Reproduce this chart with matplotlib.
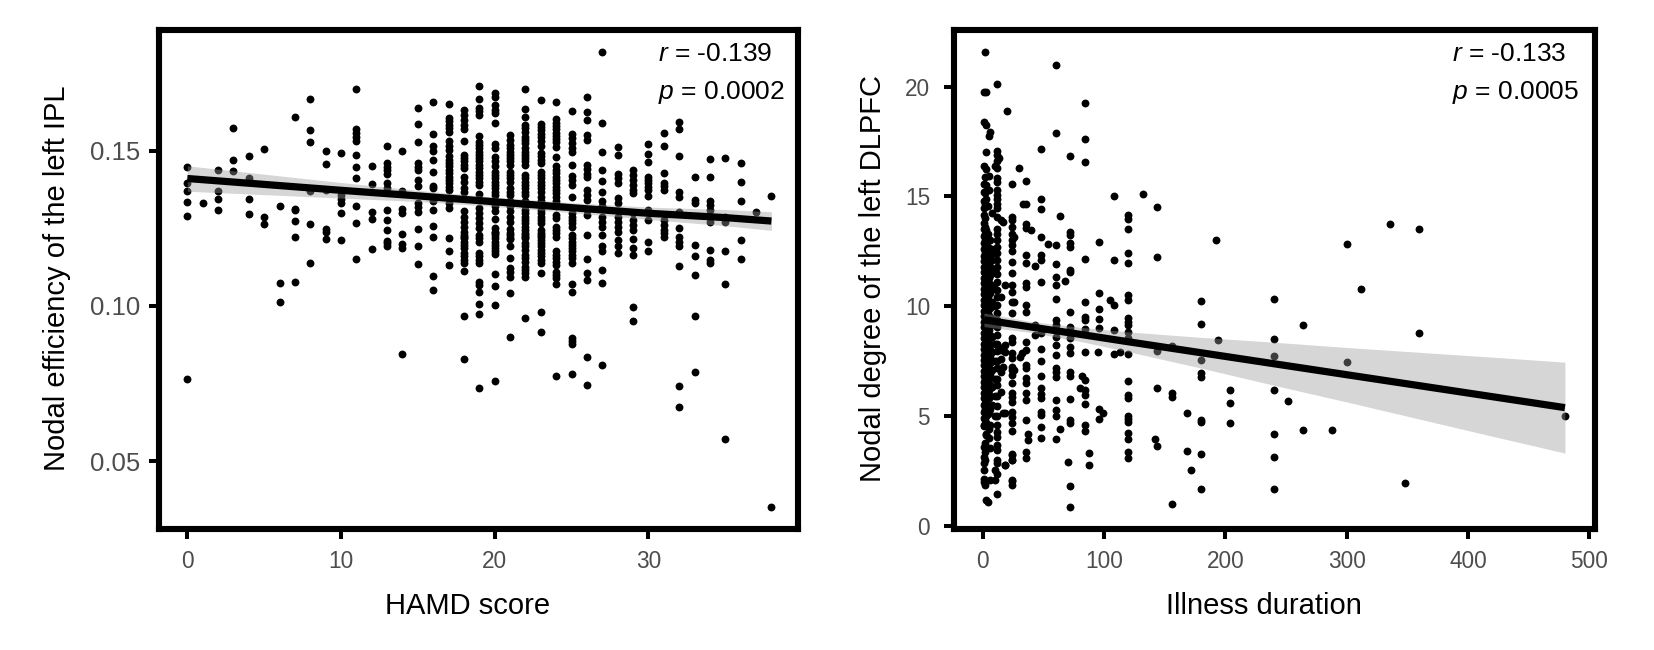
import matplotlib
matplotlib.use("Agg")
import matplotlib.pyplot as plt

plt.rcParams['font.family'] = ['Liberation Sans', 'DejaVu Sans']
plt.rcParams['mathtext.fontset'] = 'custom'
plt.rcParams['mathtext.rm'] = 'Liberation Sans'
plt.rcParams['mathtext.it'] = 'Liberation Sans:italic'

# left panel: nodal efficiency values, one list per HAMD score 0..38
efficiency_by_score = [
    [.1447, .1395, .1369, .1334, .1289, .0765],
    [.1331],
    [.1438, .1371, .1345, .1310],
    [.1572, .1470, .1434],
    [.1484, .1411, .1344, .1296],
    [.1506, .1287, .1264],
    [.1320, .1074, .1013],
    [.1608, .1313, .1307, .1273, .1222, .1077],
    [.1667, .1567, .1529, .1371, .1264, .1138],
    [.1499, .1458, .1373, .1248, .1239, .1216],
    [.1492, .1357, .1343, .1331, .1298, .1212],
    [.1697, .1569, .1556, .1543, .1532, .1486, .1448, .1411, .1321, .1268, .1152],
    [.1450, .1393, .1303, .1281, .1183],
    [.1514, .1461, .1448, .1436, .1425, .1397, .1379, .1310, .1277, .1244, .1210, .1202, .1191],
    [.1498, .1371, .1313, .1300, .1231, .1199, .1185, .0846],
    [.1638, .1585, .1526, .1461, .1448, .1438, .1406, .1386, .1331, .1318, .1303, .1248, .1194, .1133],
    [.1655, .1553, .1515, .1498, .1470, .1432, .1387, .1379, .1336, .1310, .1257, .1221, .1096, .1051],
    [.1649, .1604, .1594, .1583, .1572, .1561, .1532, .1515, .1502, .1481, .1470, .1459, .1449, .1438, .1427,
     .1416, .1406, .1395, .1384, .1373, .1330, .1314, .1218, .1177, .1132],
    [.1631, .1615, .1599, .1583, .1569, .1532, .1486, .1475, .1465, .1454, .1443, .1416, .1400, .1379, .1368,
     .1304, .1287, .1271, .1255, .1239, .1223, .1228, .1218, .1207, .1196, .1185, .1169, .1159, .1148, .1137,
     .1112, .0967, .0829],
    [.1708, .1667, .1636, .1626, .1615, .1548, .1529, .1518, .1508, .1497, .1486, .1475, .1465, .1454, .1443,
     .1432, .1422, .1411, .1400, .1389, .1360, .1314, .1298, .1282, .1266, .1250, .1228, .1218, .1207, .1169,
     .1159, .1148, .1137, .1078, .1067, .1046, .1005, .0973, .0735],
    [.1685, .1672, .1647, .1631, .1620, .1590, .1522, .1508, .1479, .1465, .1449, .1432, .1422, .1411, .1400,
     .1389, .1379, .1368, .1357, .1336, .1320, .1304, .1279, .1250, .1234, .1218, .1239, .1228, .1207, .1196,
     .1185, .1175, .1167, .1102, .1064, .1001, .0758],
    [.1551, .1534, .1518, .1508, .1497, .1486, .1475, .1465, .1454, .1432, .1422, .1411, .1400, .1379, .1368,
     .1357, .1336, .1320, .1304, .1287, .1271, .1247, .1234, .1218, .1228, .1214, .1191, .1153, .1121, .1110,
     .1094, .1040, .0899],
    [.1698, .1633, .1607, .1583, .1572, .1561, .1545, .1534, .1524, .1508, .1497, .1486, .1475, .1465, .1454,
     .1422, .1411, .1400, .1389, .1379, .1368, .1357, .1336, .1320, .1309, .1298, .1287, .1277, .1266, .1255,
     .1244, .1234, .1223, .1228, .1218, .1202, .1191, .1180, .1164, .1153, .1142, .1126, .1116, .1105, .1094,
     .0960],
    [.1663, .1586, .1575, .1565, .1554, .1543, .1532, .1515, .1492, .1481, .1470, .1459, .1432, .1422, .1411,
     .1400, .1389, .1379, .1368, .1352, .1336, .1309, .1298, .1287, .1277, .1266, .1244, .1234, .1223, .1228,
     .1212, .1202, .1191, .1180, .1169, .1159, .1148, .1137, .1107, .0981, .0916],
    [.1655, .1601, .1590, .1580, .1569, .1558, .1547, .1537, .1526, .1511, .1479, .1449, .1438, .1427, .1416,
     .1406, .1395, .1384, .1373, .1363, .1352, .1336, .1320, .1293, .1282, .1255, .1244, .1234, .1223, .1175,
     .1164, .1153, .1142, .1132, .1110, .1100, .1089, .1069, .0774],
    [.1629, .1553, .1540, .1524, .1508, .1497, .1454, .1418, .1406, .1389, .1352, .1298, .1287, .1277, .1266,
     .1255, .1228, .1218, .1207, .1196, .1185, .1175, .1164, .1153, .1139, .1069, .1044, .0895, .0885, .0876,
     .0781],
    [.1674, .1623, .1599, .1551, .1534, .1454, .1440, .1425, .1414, .1373, .1357, .1341, .1309, .1293, .1228,
     .1150, .1105, .1084, .0836, .0745],
    [.1817, .1588, .1495, .1436, .1403, .1368, .1336, .1320, .1287, .1271, .1255, .1228, .1191, .1175, .1116,
     .1075, .0810],
    [.1510, .1486, .1425, .1411, .1395, .1346, .1332, .1287, .1271, .1255, .1239, .1212, .1191, .1169],
    [.1438, .1422, .1405, .1389, .1373, .1363, .1298, .1277, .1261, .1244, .1214, .1185, .1164, .0995, .0951],
    [.1521, .1488, .1462, .1416, .1405, .1395, .1384, .1373, .1355, .1309, .1277, .1207, .1178],
    [.1556, .1515, .1427, .1397, .1386, .1373, .1277, .1261, .1244, .1234, .1223],
    [.1593, .1569, .1481, .1365, .1352, .1303, .1250, .1223, .1207, .1191, .1129, .0742, .0674],
    [.1416, .1341, .1330, .1196, .1159, .1100, .0967, .0788],
    [.1473, .1416, .1336, .1325, .1309, .1287, .1271, .1180, .1148, .1139],
    [.1475, .1287, .1271, .1177, .1070, .0572],
    [.1459, .1398, .1336, .1212, .1151],
    [.1301],
    [.1354, .0352],
]

# left panel: fitted line and confidence band
fit_score = [0, 5, 10, 15, 20, 25, 30, 35, 38]
fit_efficiency = [.1410, .1391, .1372, .1354, .1335, .1316, .1298, .1284, .1273]
band_half_left = [.0041, .0033, .0025, .0018, .0015, .0016, .0020, .0026, .0030]

# right panel: nodal degree values, grouped by illness duration
duration_months = [1, 2, 3, 4, 5, 6, 8, 10, 12, 13, 15, 17, 18, 20, 24, 26, 30, 31, 32, 33, 36, 37, 40, 43, 48,
                   54, 60, 64, 68, 70, 72, 80, 82, 84, 88, 95, 96, 99, 105, 108, 113, 120, 132, 142, 144, 156,
                   168, 172, 180, 192, 194, 204, 240, 252, 264, 288, 300, 312, 336, 348, 360, 480]
degree_by_duration = [
    [19.74, 18.4, 16.4, 15.57, 14.15, 3.6, 3.14, 2.84, 2.53, 2.15, 2.0, 4.54, 4.6, 4.9, 5.2, 5.5, 5.8, 6.05, 6.3,
     6.55, 6.8, 7.05, 7.3, 7.55, 7.8, 8.05, 8.3, 8.55, 8.8, 9.05, 9.3, 9.55, 9.8, 10.05, 10.3, 10.55, 10.8, 11.05,
     11.3, 11.55, 11.8, 12.05, 12.3, 12.6, 12.9, 13.2, 13.5, 13.8, 14.46, 14.8, 15.2],
    [21.57, 15.9, 15.14, 14.67, 3.37, 3.0, 3.75, 1.85, 4.8, 5.3, 5.6, 6.0, 6.4, 6.7, 7.0, 7.3, 7.6, 7.9, 8.2, 8.5,
     8.8, 9.1, 9.4, 9.7, 10.0, 10.3, 10.6, 10.9, 11.2, 11.5, 11.8, 12.1, 12.4, 12.7, 13.0, 13.3, 13.6, 14.0],
    [19.74, 18.25, 17.0, 16.25, 15.5, 14.9, 4.13, 1.17, 4.2, 4.7, 5.0, 5.4, 5.7, 6.1, 6.5, 6.9, 7.2, 7.5, 7.8, 8.1,
     8.4, 8.7, 9.0, 9.3, 9.6, 9.9, 10.2, 10.5, 10.8, 11.1, 11.4, 11.7, 12.0, 12.3, 12.6, 12.85, 13.15, 13.45],
    [1.09, 5.1, 5.9, 6.6, 7.4, 8.0, 8.9, 9.7, 10.4, 11.0, 11.6, 12.2, 12.7, 13.3, 14.56],
    [17.77, 15.95, 15.3, 3.98, 4.4, 5.2, 5.8, 6.2, 6.8, 7.4, 7.9, 8.3, 8.9, 9.5, 10.1, 10.7, 11.3, 11.9, 12.4, 13.0],
    [17.95, 3.52, 2.08, 4.6, 5.3, 5.9, 6.4, 6.9, 7.4, 7.7, 8.0, 8.3, 8.7, 9.1, 9.5, 9.9, 10.2, 10.6, 11.0, 11.4,
     11.8, 12.2, 12.6, 13.0],
    [14.23, 5.5, 6.3, 7.1, 7.9, 8.6, 9.4, 10.2, 10.9, 11.5, 12.1, 12.6],
    [16.39, 2.53, 2.08, 5.0, 5.9, 6.7, 7.5, 8.3, 9.2, 10.0, 10.8, 11.6, 12.4],
    [20.12, 17.07, 16.9, 16.6, 16.28, 15.82, 15.67, 15.3, 15.07, 14.9, 14.64, 14.46, 14.08, 3.67, 3.44, 3.0, 2.84,
     2.38, 1.47, 4.05, 4.28, 4.58, 5.0, 5.45, 5.9, 6.4, 6.7, 7.2, 7.5, 7.95, 8.3, 8.7, 9.05, 9.35, 9.7, 10.05, 10.4,
     10.75, 11.1, 11.45, 11.8, 12.1, 12.4, 12.7, 13.0, 13.3, 13.5],
    [16.77],
    [13.93, 10.43, 8.1, 8.0, 7.6, 7.0, 6.1],
    [13.85, 7.24, 5.15],
    [10.97, 8.23, 7.93, 5.15, 2.78, 2.76],
    [18.9],
    [15.55, 14.08, 13.93, 13.6, 13.3, 13.0, 12.8, 12.5, 12.0, 11.5, 10.97, 10.66, 10.2, 9.68, 8.54, 8.38, 7.85,
     7.62, 7.24, 7.09, 6.87, 6.49, 6.03, 5.88, 5.65, 5.19, 4.97, 4.66, 4.31, 3.29, 3.22, 3.0, 2.99, 2.08, 2.03, 1.85],
    [13.17, 10.2, 7.09],
    [16.3],
    [7.67],
    [7.85],
    [14.64],
    [15.7, 14.64, 13.74, 13.55, 12.33, 11.95, 11.07, 10.86, 10.06, 9.75, 8.38, 8.0, 7.32, 7.17, 6.71, 6.49, 6.06,
     5.73, 4.81, 3.34, 3.07],
    [4.16, 3.9],
    [13.47],
    [11.83, 9.14, 8.69],
    [17.18, 14.88, 14.44, 13.17, 12.33, 12.1, 11.12, 8.76, 8.05, 7.5, 6.82, 6.26, 6.0, 5.8, 5.19, 5.04, 4.51, 4.01],
    [12.85],
    [21.0, 17.9, 12.8, 11.9, 11.32, 10.97, 10.31, 9.37, 9.14, 8.61, 8.23, 7.78, 7.17, 7.02, 6.79, 5.73, 5.27, 5.0,
     3.93],
    [14.1, 4.4],
    [11.16],
    [2.92],
    [16.83, 13.4, 13.24, 12.9, 12.7, 11.65, 11.57, 9.72, 9.07, 8.92, 8.54, 8.16, 7.85, 7.02, 6.82, 5.76, 4.81, 4.69,
     1.81, 0.85],
    [6.29],
    [6.82],
    [19.26, 17.62, 16.58, 12.13, 10.18, 9.52, 9.37, 8.96, 7.93, 6.64, 6.18, 5.95, 5.53, 4.59, 4.31],
    [3.31, 2.78],
    [7.93],
    [12.94, 10.62, 9.86, 9.43, 9.01, 5.3, 4.85],
    [5.12],
    [10.28],
    [15.03, 12.1, 10.05, 8.92, 7.81],
    [7.93],
    [14.15, 13.96, 13.5, 12.44, 11.95, 10.51, 10.28, 9.45, 9.3, 9.14, 8.84, 8.54, 7.82, 6.59, 5.95, 5.8, 5.01, 4.86,
     4.71, 4.21, 3.95, 3.34, 3.07],
    [15.1],
    [3.93],
    [14.5, 12.24, 7.97, 6.27, 3.63],
    [8.19, 6.06, 5.85, 0.99],
    [5.15, 3.39],
    [2.55],
    [10.24, 9.19, 7.55, 6.94, 6.76, 4.84, 4.74, 3.25, 1.66],
    [13.0],
    [8.45],
    [6.18, 5.59, 4.69],
    [10.35, 8.52, 7.73, 6.2, 4.2, 3.11, 1.67],
    [5.69],
    [9.16, 4.36],
    [4.38],
    [12.85, 7.46],
    [10.78],
    [13.76],
    [1.94],
    [13.5, 8.8],
    [5.01],
]

# right panel: fitted line and confidence band
fit_months = [1, 40, 80, 120, 180, 240, 300, 360, 420, 480]
fit_degree = [9.38, 9.05, 8.72, 8.38, 7.88, 7.38, 6.88, 6.38, 5.88, 5.38]
band_half_right = [.31, .25, .32, .45, .70, .98, 1.24, 1.52, 1.80, 2.07]

W, H = 1654, 650
fig = plt.figure(figsize=(W / 100, H / 100), dpi=100, facecolor="white")


def panel(x0, x1, y0, y1, xs, ys, fx, fy, half, xlim, ylim, xticks, yticks, yfmt, xlabel, ylabel, label_x, xlabel_c,
          ysize, ypad):
    ax = fig.add_axes([x0 / W, 1 - y1 / H, (x1 - x0) / W, (y1 - y0) / H])
    ax.scatter(xs, ys, s=32, c="black", linewidths=0, zorder=2)
    upper = [a + b for a, b in zip(fy, half)]
    lower = [a - b for a, b in zip(fy, half)]
    ax.fill_between(fx, lower, upper, color="#999999", alpha=0.4, linewidth=0, zorder=3)
    ax.plot(fx, fy, color="black", lw=5.2, solid_capstyle="butt", zorder=4)
    ax.set_xlim(*xlim)
    ax.set_ylim(*ylim)
    ax.set_xticks(xticks)
    ax.set_yticks(yticks)
    ax.set_yticklabels([yfmt % t for t in yticks])
    ax.tick_params(length=7.2, width=2.9, color="black", labelcolor="#4D4D4D", labelsize=16.3)
    ax.tick_params(axis="x", pad=8)
    ax.tick_params(axis="y", labelsize=ysize, pad=ypad)
    for s in ax.spines.values():
        s.set_linewidth(4.4)
    ax.set_xlabel(xlabel, fontsize=21, color="black")
    ax.set_ylabel(ylabel, fontsize=21, color="black")
    ax.xaxis.set_label_coords((xlabel_c - x0) / (x1 - x0), -(592 - y1) / (y1 - y0))
    ax.yaxis.set_label_coords((label_x - x0) / (x1 - x0), (y1 - 278) / (y1 - y0))
    return ax


score_x = [i for i, col in enumerate(efficiency_by_score) for _ in col]
score_y = [v for col in efficiency_by_score for v in col]
month_x = [m for m, col in zip(duration_months, degree_by_duration) for _ in col]
month_y = [v for col in degree_by_duration for v in col]

panel(159, 798, 29.5, 529.3, score_x, score_y, fit_score, fit_efficiency, band_half_left,
      (-1.84, 39.73), (0.028, 0.189), [0, 10, 20, 30], [0.05, 0.10, 0.15], "%.2f",
      "HAMD score", "Nodal efficiency of the left IPL", 71, 468, 18.5, 6)
panel(954, 1595, 29.5, 529.3, month_x, month_y, fit_months, fit_degree, band_half_right,
      (-23.7, 504.8), (-0.16, 22.6), [0, 100, 200, 300, 400, 500], [0, 5, 10, 15, 20], "%d",
      "Illness duration", "Nodal degree of the left DLPFC", 887, 1264, 16.3, 10)

notes = [(658, 61, r"$\mathit{r}$ = -0.139"), (658, 99, r"$\mathit{p}$ = 0.0002"),
         (1452, 61, r"$\mathit{r}$ = -0.133"), (1452, 99, r"$\mathit{p}$ = 0.0005")]
for nx, ny, txt in notes:
    fig.text(nx / W, 1 - ny / H, txt, fontsize=19, color="black", va="baseline", ha="left")

fig.savefig("out.png", dpi=100)
